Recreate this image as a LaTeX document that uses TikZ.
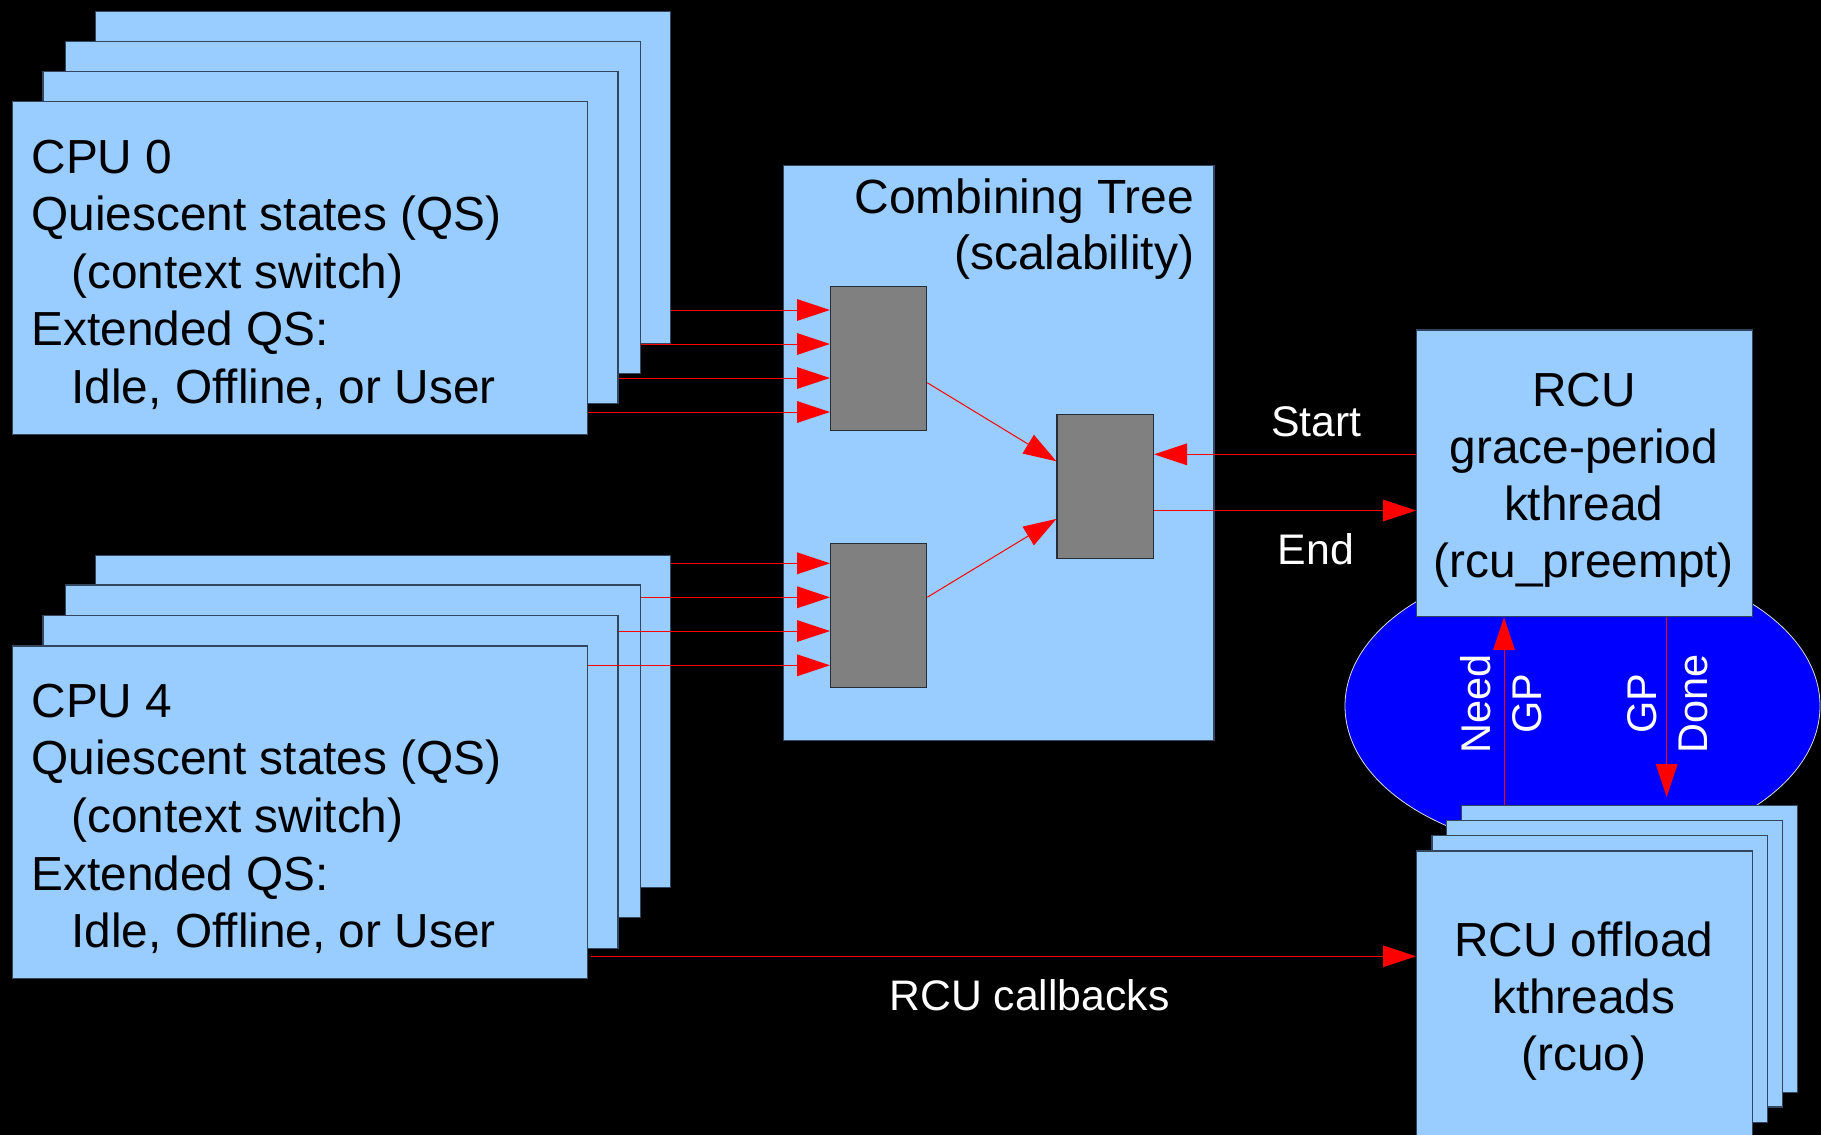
\documentclass[tikz,border=0pt]{standalone}
\usepackage{fontspec}
\setmainfont{Liberation Sans}
\usetikzlibrary{arrows.meta,calc,shapes.geometric}
\definecolor{boxblue}{RGB}{153,204,255}
\definecolor{boxedge}{RGB}{50,70,95}
\definecolor{gpblue}{RGB}{0,0,255}
\definecolor{nodegray}{RGB}{128,128,128}
\definecolor{nodeedge}{RGB}{40,44,52}
\definecolor{linkred}{RGB}{255,0,0}

\begin{document}
\begin{tikzpicture}[x=1pt,y=-1pt,
  panel/.style={draw=boxedge, fill=boxblue, line width=1.2pt, inner sep=0pt,
    anchor=north west, minimum width=575pt, minimum height=332.5pt},
  gpanel/.style={draw=boxedge, fill=boxblue, line width=1.2pt, inner sep=0pt,
    anchor=north west, minimum width=335.7pt, minimum height=286.7pt},
  treenode/.style={draw=nodeedge, fill=nodegray, line width=1.2pt, inner sep=0pt,
    anchor=north west, minimum width=96pt, minimum height=144pt},
  arr/.style={draw=linkred, line width=1pt, -{Triangle[length=33pt,width=21.7pt]}},
  cputxt/.style={anchor=north west, inner sep=0pt, align=left,
    font=\fontsize{47.8}{57.6}\selectfont},
  boxtxt/.style={anchor=north, inner sep=0pt, align=center,
    font=\fontsize{47.8}{57.3}\selectfont},
  lbl/.style={anchor=base, inner sep=0pt, text=white,
    font=\fontsize{42.8}{50}\selectfont},
  vlbl/.style={inner sep=0pt, text=white, rotate=90, align=center,
    font=\fontsize{41.5}{51}\selectfont}]

% black canvas
\fill[black] (0,0) rectangle (1821,1135);
\useasboundingbox (0,0) rectangle (1821,1135);

% combining tree
\node[draw=boxedge, fill=boxblue, line width=1.2pt, inner sep=0pt, anchor=north west,
  minimum width=430.8pt, minimum height=574.7pt] (comb) at (782.5,165) {};
\node[anchor=north east, inner sep=0pt, align=right,
  font=\fontsize{48}{55.5}\selectfont] (combtxt) at (1194.5,179)
  {Combining Tree\\(scalability)};
\node[treenode] (gtl) at (830,285.7) {};
\node[treenode] (gbl) at (830,542.7) {};
\node[treenode, minimum width=96.5pt] (gr) at (1056.4,414) {};

% CPU 0 stack
\node[panel] (c0d) at (94.6,10.7) {};
\node[panel] (c0c) at (64.7,40.7) {};
\node[panel] (c0b) at (42.4,70.7) {};
\node[panel] (c0a) at (12,101) {};
\node[cputxt] (c0t) at (31.3,139.5)
  {CPU 0\\Quiescent states (QS)\\\hspace*{40pt}(context switch)\\Extended QS:\\\hspace*{40pt}Idle, Offline, or User};

% CPU 4 stack
\node[panel] (c4d) at (94.6,554.7) {};
\node[panel] (c4c) at (64.7,584.3) {};
\node[panel] (c4b) at (42.4,615) {};
\node[panel] (c4a) at (12,645.3) {};
\node[cputxt] (c4t) at (31.3,683.8)
  {CPU 4\\Quiescent states (QS)\\\hspace*{40pt}(context switch)\\Extended QS:\\\hspace*{40pt}Idle, Offline, or User};

% rows of the leaf inputs
\coordinate (ra) at (0,310);
\coordinate (rb) at (0,344);
\coordinate (rc) at (0,378);
\coordinate (rd) at (0,412);
\coordinate (sa) at (0,563.3);
\coordinate (sb) at (0,597.3);
\coordinate (sc) at (0,631);
\coordinate (sd) at (0,665.3);

\draw[arr] (c0d.east |- ra) -- (gtl.west |- ra);
\draw[arr] (c0c.east |- rb) -- (gtl.west |- rb);
\draw[arr] (c0b.east |- rc) -- (gtl.west |- rc);
\draw[arr] (c0a.east |- rd) -- (gtl.west |- rd);
\draw[arr] (c4d.east |- sa) -- (gbl.west |- sa);
\draw[arr] (c4c.east |- sb) -- (gbl.west |- sb);
\draw[arr] (c4b.east |- sc) -- (gbl.west |- sc);
\draw[arr] (c4a.east |- sd) -- (gbl.west |- sd);

\draw[arr] ([yshift=-24.4pt]gtl.east) -- ([yshift=25.3pt]gr.west);
\draw[arr] ([yshift=18pt]gbl.east) -- ([yshift=-32.3pt]gr.west);

% grace-period machinery
\node[ellipse, fill=gpblue, draw=white!85!black, line width=0.8pt, inner sep=0pt,
  minimum width=475pt, minimum height=292pt] (gpell) at (1582.5,706) {};

\node[gpanel] (rcu) at (1416,329.3) {};
\node[boxtxt] (rcutxt) at (1583.8,372.5)
  {RCU\\grace-period\\kthread\\(rcu\_preempt)};

\node[gpanel] (ob3) at (1461,805) {};
\node[gpanel] (ob2) at (1446,819.7) {};
\node[gpanel] (ob1) at (1431.3,835) {};
\node[gpanel] (ob0) at (1416,850.3) {};
\node[boxtxt] (obtxt) at (1583.8,921.5)
  {RCU offload\\kthreads\\(rcuo)};

\coordinate (ys) at (0,454.3);
\coordinate (ye) at (0,510.5);
\draw[arr] (rcu.west |- ys) -- (gr.east |- ys);
\draw[arr] (gr.east |- ye) -- (rcu.west |- ye);
\node[lbl] (tstart) at (1316.3,436.7) {Start};
\node[lbl] (tend) at (1316,564) {End};

\coordinate (nx) at (1504,0);
\coordinate (dx) at (1666.7,0);
\draw[arr] (ob3.north -| nx) -- (rcu.south -| nx);
\draw[arr, shorten >=8pt] (rcu.south -| dx) -- (ob3.north -| dx);
\node[vlbl] (tneed) at (1501.4,704) {Need\\GP};
\node[vlbl] (tdone) at (1668,704) {GP\\Done};

% callbacks to the offload threads
\coordinate (cy) at (0,956.3);
\draw[arr, shorten <=3pt] (c4a.east |- cy) -- (ob0.west |- cy);
\node[lbl, font=\fontsize{42.7}{50}\selectfont] (tcb) at (1029.5,1010) {RCU callbacks};

\end{tikzpicture}
\end{document}
